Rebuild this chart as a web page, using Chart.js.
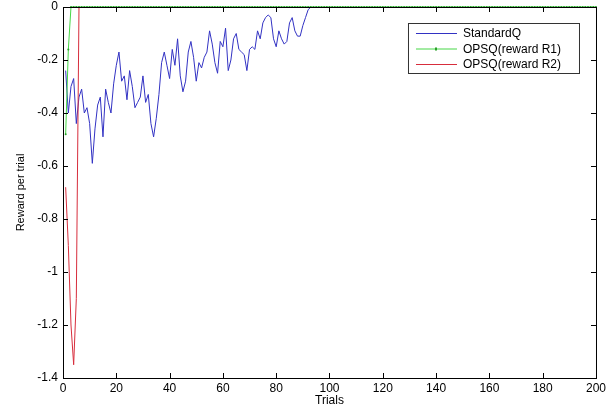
<!DOCTYPE html>
<html>
<head>
<meta charset="utf-8">
<script src="https://cdn.jsdelivr.net/npm/chart.js@4.4.0/dist/chart.umd.min.js"></script>
<style>
  html, body { margin: 0; padding: 0; background: #fff; }
  #wrap { width: 609px; height: 408px; }
</style>
</head>
<body>
<div id="wrap"><canvas id="rewardChart" width="609" height="408"></canvas></div>
<script>
// Trial numbers (x) and tick labels
const trials = Array.from({ length: 200 }, (_, i) => i + 1);
const xTicks = [0, 20, 40, 60, 80, 100, 120, 140, 160, 180, 200];
const yTicks = [0, -0.2, -0.4, -0.6, -0.8, -1, -1.2, -1.4];
const seriesNames = ['StandardQ', 'OPSQ(reward R1)', 'OPSQ(reward R2)'];

// Reward per trial
const standardQ = [
  -0.24, -0.40, -0.30, -0.27, -0.44, -0.34, -0.31, -0.40, -0.38, -0.44,
  -0.59, -0.46, -0.37, -0.34, -0.49, -0.31, -0.36, -0.40, -0.29, -0.22,
  -0.17, -0.28, -0.26, -0.35, -0.24, -0.30, -0.38, -0.36, -0.34, -0.26,
  -0.36, -0.33, -0.44, -0.49, -0.42, -0.33, -0.21, -0.17, -0.22, -0.27,
  -0.16, -0.22, -0.12, -0.26, -0.32, -0.28, -0.17, -0.13, -0.19, -0.28,
  -0.21, -0.23, -0.19, -0.17, -0.09, -0.14, -0.21, -0.25, -0.13, -0.15,
  -0.08, -0.24, -0.20, -0.12, -0.10, -0.16, -0.17, -0.18, -0.24, -0.16,
  -0.15, -0.16, -0.09, -0.12, -0.06, -0.04, -0.03, -0.04, -0.12, -0.15,
  -0.09, -0.12, -0.14, -0.13, -0.06, -0.04, -0.09, -0.11, -0.11, -0.07,
  -0.04, -0.01, 0, 0, 0, 0, 0, 0, 0, 0,
  0, 0, 0, 0, 0, 0, 0, 0, 0, 0, 0, 0, 0, 0, 0, 0, 0, 0, 0, 0,
  0, 0, 0, 0, 0, 0, 0, 0, 0, 0, 0, 0, 0, 0, 0, 0, 0, 0, 0, 0,
  0, 0, 0, 0, 0, 0, 0, 0, 0, 0, 0, 0, 0, 0, 0, 0, 0, 0, 0, 0,
  0, 0, 0, 0, 0, 0, 0, 0, 0, 0, 0, 0, 0, 0, 0, 0, 0, 0, 0, 0,
  0, 0, 0, 0, 0, 0, 0, 0, 0, 0, 0, 0, 0, 0, 0, 0, 0, 0, 0, 0
];
const opsqR1 = [
  -0.48, -0.16, 0, 0, 0, 0, 0, 0, 0, 0, 0, 0, 0, 0, 0, 0, 0, 0, 0, 0,
  0, 0, 0, 0, 0, 0, 0, 0, 0, 0, 0, 0, 0, 0, 0, 0, 0, 0, 0, 0,
  0, 0, 0, 0, 0, 0, 0, 0, 0, 0, 0, 0, 0, 0, 0, 0, 0, 0, 0, 0,
  0, 0, 0, 0, 0, 0, 0, 0, 0, 0, 0, 0, 0, 0, 0, 0, 0, 0, 0, 0,
  0, 0, 0, 0, 0, 0, 0, 0, 0, 0, 0, 0, 0, 0, 0, 0, 0, 0, 0, 0,
  0, 0, 0, 0, 0, 0, 0, 0, 0, 0, 0, 0, 0, 0, 0, 0, 0, 0, 0, 0,
  0, 0, 0, 0, 0, 0, 0, 0, 0, 0, 0, 0, 0, 0, 0, 0, 0, 0, 0, 0,
  0, 0, 0, 0, 0, 0, 0, 0, 0, 0, 0, 0, 0, 0, 0, 0, 0, 0, 0, 0,
  0, 0, 0, 0, 0, 0, 0, 0, 0, 0, 0, 0, 0, 0, 0, 0, 0, 0, 0, 0,
  0, 0, 0, 0, 0, 0, 0, 0, 0, 0, 0, 0, 0, 0, 0, 0, 0, 0, 0, 0
];
const opsqR2 = [
  -0.68, -0.90, -1.20, -1.35, -1.10, 0, 0, 0, 0, 0, 0, 0, 0, 0, 0, 0, 0, 0, 0, 0,
  0, 0, 0, 0, 0, 0, 0, 0, 0, 0, 0, 0, 0, 0, 0, 0, 0, 0, 0, 0,
  0, 0, 0, 0, 0, 0, 0, 0, 0, 0, 0, 0, 0, 0, 0, 0, 0, 0, 0, 0,
  0, 0, 0, 0, 0, 0, 0, 0, 0, 0, 0, 0, 0, 0, 0, 0, 0, 0, 0, 0,
  0, 0, 0, 0, 0, 0, 0, 0, 0, 0, 0, 0, 0, 0, 0, 0, 0, 0, 0, 0,
  0, 0, 0, 0, 0, 0, 0, 0, 0, 0, 0, 0, 0, 0, 0, 0, 0, 0, 0, 0,
  0, 0, 0, 0, 0, 0, 0, 0, 0, 0, 0, 0, 0, 0, 0, 0, 0, 0, 0, 0,
  0, 0, 0, 0, 0, 0, 0, 0, 0, 0, 0, 0, 0, 0, 0, 0, 0, 0, 0, 0,
  0, 0, 0, 0, 0, 0, 0, 0, 0, 0, 0, 0, 0, 0, 0, 0, 0, 0, 0, 0,
  0, 0, 0, 0, 0, 0, 0, 0, 0, 0, 0, 0, 0, 0, 0, 0, 0, 0, 0, 0
];

const FONT = "'Liberation Sans', Arial, sans-serif";
const toPoints = vals => vals.map((v, i) => ({ x: trials[i], y: v }));

// MATLAB style box with inward ticks on all four sides
const boxTicks = {
  id: 'boxTicks',
  afterDraw(chart) {
    const { ctx, chartArea: a, scales: { x, y } } = chart;
    ctx.save();
    ctx.strokeStyle = '#000';
    ctx.lineWidth = 1;
    ctx.strokeRect(a.left + 0.5, a.top + 0.5, a.right - a.left, a.bottom - a.top);
    ctx.beginPath();
    xTicks.forEach(v => {
      const px = Math.round(x.getPixelForValue(v)) + 0.5;
      ctx.moveTo(px, a.bottom); ctx.lineTo(px, a.bottom - 5);
      ctx.moveTo(px, a.top); ctx.lineTo(px, a.top + 5);
    });
    yTicks.forEach(v => {
      const py = Math.round(y.getPixelForValue(v)) + 0.5;
      ctx.moveTo(a.left, py); ctx.lineTo(a.left + 5, py);
      ctx.moveTo(a.right, py); ctx.lineTo(a.right - 5, py);
    });
    ctx.stroke();
    ctx.restore();
  }
};

// legend box inside the plot, top right
const boxLegend = {
  id: 'boxLegend',
  afterDraw(chart) {
    const { ctx, chartArea: a } = chart;
    const w = 171, h = 50;
    const left = a.right - 17, top = a.top + 16;
    const bx = left - w;
    ctx.save();
    ctx.fillStyle = '#fff';
    ctx.fillRect(bx, top, w, h);
    ctx.strokeStyle = '#333';
    ctx.lineWidth = 1;
    ctx.strokeRect(bx + 0.5, top + 0.5, w, h);
    ctx.font = '12px ' + FONT;
    ctx.textBaseline = 'middle';
    seriesNames.forEach((name, i) => {
      const ds = chart.data.datasets.find(d => d.label === name);
      const yy = top + 10 + i * 15.5;
      ctx.strokeStyle = ds.borderColor;
      ctx.beginPath();
      ctx.moveTo(bx + 8, yy + 0.5); ctx.lineTo(bx + 49, yy + 0.5);
      ctx.stroke();
      if (ds.pointRadius > 0) {
        ctx.fillStyle = ds.pointBackgroundColor;
        ctx.fillRect(bx + 27, yy - 1, 2, 3);
      }
      ctx.fillStyle = '#000';
      ctx.fillText(name, bx + 55, yy + 1);
    });
    ctx.restore();
  }
};

new Chart(document.getElementById('rewardChart'), {
  type: 'line',
  data: {
    datasets: [
      {
        label: 'StandardQ', data: toPoints(standardQ),
        borderColor: 'rgb(50,50,195)', borderWidth: 1, pointRadius: 0, order: 3
      },
      {
        label: 'OPSQ(reward R1)', data: toPoints(opsqR1),
        borderColor: 'rgb(70,215,70)', borderWidth: 1, pointRadius: 1,
        pointBackgroundColor: 'rgb(40,160,40)', pointBorderWidth: 0, order: 1, clip: 3
      },
      {
        label: 'OPSQ(reward R2)', data: toPoints(opsqR2),
        borderColor: 'rgb(215,45,60)', borderWidth: 1, pointRadius: 0, order: 2
      }
    ]
  },
  options: {
    responsive: false,
    animation: false,
    layout: { padding: { top: 7, right: 10, left: 0, bottom: 0 } },
    plugins: { legend: { display: false }, tooltip: { enabled: false } },
    elements: { line: { tension: 0 } },
    scales: {
      x: {
        type: 'linear', min: 0, max: 200,
        afterBuildTicks: s => { s.ticks = xTicks.map(v => ({ value: v })); },
        afterFit: s => { s.height = 30; },
        grid: { display: false, drawTicks: false },
        border: { display: false },
        ticks: { color: '#000', padding: 3, maxRotation: 0, font: { family: FONT, size: 12 } },
        title: { display: true, text: 'Trials', color: '#000', padding: 0, font: { family: FONT, size: 12 } }
      },
      y: {
        min: -1.4, max: 0,
        afterBuildTicks: s => { s.ticks = yTicks.map(v => ({ value: v })); },
        afterFit: s => { s.width = 63; s.paddingTop = 0; s.paddingBottom = 0; },
        grid: { display: false, drawTicks: false },
        border: { display: false },
        ticks: { color: '#000', padding: 5, font: { family: FONT, size: 12 },
                 callback: v => String(Math.round(v * 10) / 10) },
        title: { display: true, text: 'Reward per trial', color: '#000',
                 padding: { top: 14, bottom: 0 }, font: { family: FONT, size: 11 } }
      }
    }
  },
  plugins: [boxTicks, boxLegend]
});
</script>
</body>
</html>
